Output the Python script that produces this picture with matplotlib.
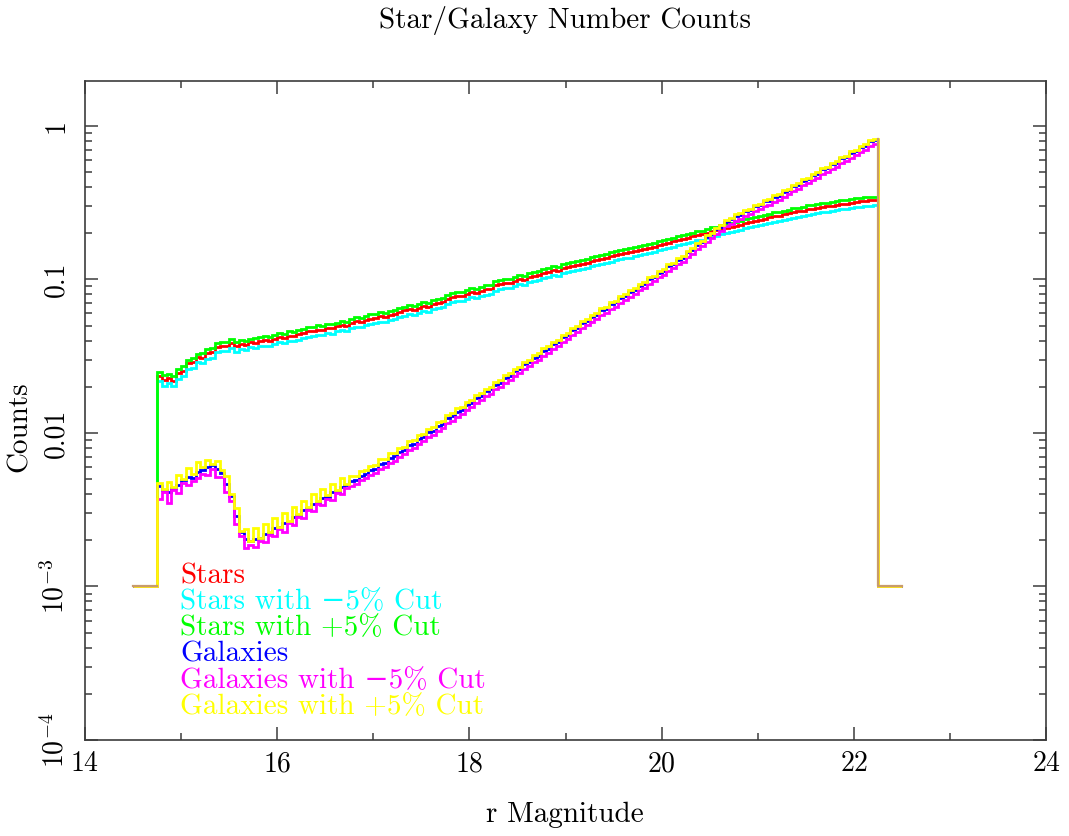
import numpy as np
import matplotlib.pyplot as plt

# --- histogram layout (r magnitude) ---
MAG_LO, MAG_HI = 14.5, 22.5      # full histogram range
CUT_LO, CUT_HI = 14.75, 22.25    # range that actually has objects
BIN = 0.05
FLOOR = 1e-3                     # empty bins get plotted at this level

# normalised counts per bin, 0.05 mag bins from 14.75 to 22.25
stars = [
    0.0236, 0.0221, 0.0228, 0.0219, 0.0244, 0.0255, 0.0284, 0.0288, 0.0312, 0.0309,
    0.0331, 0.0336, 0.0362, 0.0371, 0.0369, 0.0386, 0.0367, 0.0381, 0.0373, 0.0390,
    0.0388, 0.0396, 0.0401, 0.0398, 0.0412, 0.0420, 0.0415, 0.0431, 0.0428, 0.0439,
    0.0446, 0.0458, 0.0462, 0.0471, 0.0468, 0.0484, 0.0479, 0.0495, 0.0502, 0.0498,
    0.0521, 0.0533, 0.0529, 0.0545, 0.0556, 0.0562, 0.0574, 0.0569, 0.0588, 0.0595,
    0.0612, 0.0628, 0.0640, 0.0636, 0.0655, 0.0671, 0.0664, 0.0689, 0.0702, 0.0711,
    0.0748, 0.0766, 0.0781, 0.0779, 0.0802, 0.0829, 0.0818, 0.0846, 0.0861, 0.0872,
    0.0914, 0.0931, 0.0952, 0.0948, 0.0980, 0.1010, 0.0996, 0.1035, 0.1052, 0.1068,
    0.1102, 0.1125, 0.1148, 0.1140, 0.1185, 0.1210, 0.1228, 0.1246, 0.1262, 0.1285,
    0.1318, 0.1335, 0.1362, 0.1389, 0.1412, 0.1448, 0.1461, 0.1487, 0.1502, 0.1530,
    0.1552, 0.1580, 0.1611, 0.1634, 0.1668, 0.1712, 0.1735, 0.1770, 0.1801, 0.1838,
    0.1872, 0.1905, 0.1938, 0.1966, 0.2010, 0.2063, 0.2085, 0.2131, 0.2160, 0.2194,
    0.2230, 0.2275, 0.2320, 0.2358, 0.2410, 0.2452, 0.2490, 0.2531, 0.2575, 0.2602,
    0.2650, 0.2688, 0.2735, 0.2770, 0.2806, 0.2862, 0.2891, 0.2920, 0.2962, 0.2985,
    0.3020, 0.3055, 0.3089, 0.3120, 0.3152, 0.3195, 0.3221, 0.3240, 0.3268, 0.3290,
]
stars_m5 = [
    0.0218, 0.0203, 0.0212, 0.0201, 0.0225, 0.0236, 0.0262, 0.0266, 0.0290, 0.0285,
    0.0305, 0.0310, 0.0335, 0.0343, 0.0340, 0.0357, 0.0339, 0.0352, 0.0345, 0.0361,
    0.0359, 0.0366, 0.0371, 0.0367, 0.0381, 0.0389, 0.0383, 0.0399, 0.0395, 0.0406,
    0.0413, 0.0424, 0.0427, 0.0436, 0.0432, 0.0448, 0.0442, 0.0458, 0.0465, 0.0460,
    0.0482, 0.0493, 0.0489, 0.0504, 0.0514, 0.0520, 0.0531, 0.0526, 0.0544, 0.0550,
    0.0566, 0.0581, 0.0592, 0.0588, 0.0606, 0.0621, 0.0614, 0.0637, 0.0649, 0.0658,
    0.0692, 0.0709, 0.0722, 0.0720, 0.0742, 0.0767, 0.0757, 0.0782, 0.0796, 0.0807,
    0.0845, 0.0861, 0.0880, 0.0877, 0.0906, 0.0934, 0.0921, 0.0957, 0.0973, 0.0988,
    0.1019, 0.1041, 0.1062, 0.1055, 0.1096, 0.1119, 0.1136, 0.1153, 0.1167, 0.1189,
    0.1219, 0.1235, 0.1260, 0.1285, 0.1306, 0.1339, 0.1351, 0.1375, 0.1389, 0.1415,
    0.1436, 0.1462, 0.1490, 0.1511, 0.1543, 0.1584, 0.1605, 0.1637, 0.1666, 0.1700,
    0.1732, 0.1762, 0.1793, 0.1819, 0.1859, 0.1908, 0.1929, 0.1971, 0.1998, 0.2030,
    0.2063, 0.2104, 0.2146, 0.2181, 0.2229, 0.2268, 0.2303, 0.2341, 0.2382, 0.2407,
    0.2451, 0.2486, 0.2530, 0.2562, 0.2596, 0.2647, 0.2674, 0.2701, 0.2740, 0.2761,
    0.2794, 0.2826, 0.2857, 0.2886, 0.2916, 0.2955, 0.2979, 0.2997, 0.3023, 0.3043,
]
stars_p5 = [
    0.0248, 0.0238, 0.0241, 0.0236, 0.0259, 0.0272, 0.0299, 0.0308, 0.0329, 0.0331,
    0.0352, 0.0357, 0.0388, 0.0392, 0.0390, 0.0409, 0.0392, 0.0401, 0.0398, 0.0412,
    0.0414, 0.0420, 0.0428, 0.0421, 0.0437, 0.0449, 0.0440, 0.0458, 0.0456, 0.0465,
    0.0475, 0.0489, 0.0488, 0.0502, 0.0497, 0.0513, 0.0510, 0.0524, 0.0535, 0.0528,
    0.0554, 0.0566, 0.0561, 0.0578, 0.0592, 0.0595, 0.0610, 0.0606, 0.0622, 0.0633,
    0.0650, 0.0665, 0.0681, 0.0674, 0.0696, 0.0712, 0.0703, 0.0732, 0.0743, 0.0756,
    0.0795, 0.0811, 0.0830, 0.0824, 0.0851, 0.0878, 0.0870, 0.0896, 0.0915, 0.0924,
    0.0970, 0.0986, 0.1011, 0.1004, 0.1040, 0.1069, 0.1058, 0.1096, 0.1117, 0.1130,
    0.1170, 0.1191, 0.1219, 0.1207, 0.1257, 0.1281, 0.1303, 0.1320, 0.1340, 0.1361,
    0.1398, 0.1413, 0.1446, 0.1470, 0.1498, 0.1533, 0.1550, 0.1575, 0.1594, 0.1622,
    0.1648, 0.1672, 0.1712, 0.1730, 0.1770, 0.1812, 0.1840, 0.1874, 0.1910, 0.1945,
    0.1985, 0.2018, 0.2056, 0.2082, 0.2131, 0.2185, 0.2211, 0.2258, 0.2290, 0.2324,
    0.2365, 0.2410, 0.2462, 0.2498, 0.2556, 0.2598, 0.2640, 0.2681, 0.2731, 0.2756,
    0.2810, 0.2848, 0.2901, 0.2934, 0.2975, 0.3032, 0.3065, 0.3094, 0.3141, 0.3162,
    0.3202, 0.3236, 0.3275, 0.3306, 0.3342, 0.3385, 0.3415, 0.3432, 0.3466, 0.3441,
]
gals = [
    0.00452, 0.00428, 0.00411, 0.00440, 0.00458, 0.00492, 0.00518, 0.00511, 0.00560, 0.00574,
    0.00596, 0.00615, 0.00580, 0.00545, 0.00462, 0.00388, 0.00287, 0.00228, 0.00203, 0.00197,
    0.00203, 0.00207, 0.00221, 0.00224, 0.00241, 0.00243, 0.00259, 0.00265, 0.00285, 0.00293,
    0.00315, 0.00324, 0.00345, 0.00352, 0.00377, 0.00384, 0.00410, 0.00419, 0.00447, 0.00456,
    0.00485, 0.00497, 0.00527, 0.00540, 0.00572, 0.00584, 0.00628, 0.00640, 0.00688, 0.00703,
    0.00751, 0.00772, 0.00829, 0.00850, 0.00914, 0.00941, 0.01008, 0.01036, 0.01113, 0.01147,
    0.01243, 0.01280, 0.01375, 0.01416, 0.01523, 0.01568, 0.01685, 0.01735, 0.01864, 0.01920,
    0.02063, 0.02125, 0.02283, 0.02351, 0.02527, 0.02603, 0.02796, 0.02880, 0.03094, 0.03188,
    0.03429, 0.03535, 0.03801, 0.03920, 0.04215, 0.04346, 0.04674, 0.04818, 0.05182, 0.05342,
    0.05718, 0.05868, 0.06281, 0.06443, 0.06898, 0.07077, 0.07577, 0.07773, 0.08321, 0.08538,
    0.09113, 0.09371, 0.1005, 0.1033, 0.1108, 0.1140, 0.1222, 0.1257, 0.1348, 0.1385,
    0.1500, 0.1557, 0.1686, 0.1749, 0.1894, 0.1965, 0.2128, 0.2208, 0.2379, 0.2457,
    0.2601, 0.2638, 0.2792, 0.2832, 0.2998, 0.3041, 0.3218, 0.3264, 0.3454, 0.3503,
    0.3725, 0.3803, 0.4052, 0.4137, 0.4407, 0.4499, 0.4793, 0.4894, 0.5213, 0.5323,
    0.5654, 0.5773, 0.6151, 0.6280, 0.6691, 0.6832, 0.7279, 0.7432, 0.7918, 0.8085,
]
gals_m5 = [
    0.00372, 0.00410, 0.00352, 0.00428, 0.00405, 0.00470, 0.00455, 0.00489, 0.00508, 0.00540,
    0.00530, 0.00585, 0.00520, 0.00515, 0.00415, 0.00362, 0.00255, 0.00212, 0.00178, 0.00186,
    0.00180, 0.00198, 0.00195, 0.00216, 0.00212, 0.00238, 0.00228, 0.00258, 0.00252, 0.00285,
    0.00280, 0.00315, 0.00308, 0.00342, 0.00338, 0.00372, 0.00368, 0.00405, 0.00402, 0.00440,
    0.00452, 0.00466, 0.00491, 0.00508, 0.00532, 0.00550, 0.00584, 0.00602, 0.00640, 0.00661,
    0.00699, 0.00727, 0.00771, 0.00800, 0.00850, 0.00886, 0.00937, 0.00975, 0.01035, 0.01080,
    0.01156, 0.01205, 0.01279, 0.01333, 0.01416, 0.01476, 0.01567, 0.01633, 0.01734, 0.01807,
    0.01919, 0.02000, 0.02123, 0.02213, 0.02350, 0.02450, 0.02600, 0.02711, 0.02877, 0.03000,
    0.03189, 0.03327, 0.03535, 0.03689, 0.03920, 0.04090, 0.04347, 0.04534, 0.04819, 0.05027,
    0.05318, 0.05522, 0.05841, 0.06063, 0.06415, 0.06660, 0.07047, 0.07315, 0.07739, 0.08035,
    0.08475, 0.08818, 0.09347, 0.09724, 0.1031, 0.1072, 0.1137, 0.1182, 0.1254, 0.1304,
    0.1395, 0.1465, 0.1568, 0.1646, 0.1761, 0.1849, 0.1979, 0.2077, 0.2213, 0.2312,
    0.2419, 0.2483, 0.2597, 0.2665, 0.2788, 0.2861, 0.2993, 0.3071, 0.3212, 0.3296,
    0.3464, 0.3579, 0.3768, 0.3893, 0.4098, 0.4234, 0.4458, 0.4605, 0.4848, 0.5008,
    0.5258, 0.5432, 0.5720, 0.5909, 0.6222, 0.6429, 0.6769, 0.6993, 0.7364, 0.7608,
]
gals_p5 = [
    0.00471, 0.00430, 0.00478, 0.00445, 0.00532, 0.00498, 0.00590, 0.00541, 0.00648, 0.00597,
    0.00668, 0.00630, 0.00652, 0.00575, 0.00525, 0.00402, 0.00325, 0.00231, 0.00236, 0.00198,
    0.00240, 0.00208, 0.00255, 0.00226, 0.00281, 0.00245, 0.00302, 0.00268, 0.00330, 0.00298,
    0.00362, 0.00330, 0.00398, 0.00358, 0.00432, 0.00392, 0.00468, 0.00428, 0.00508, 0.00466,
    0.00521, 0.00526, 0.00566, 0.00572, 0.00613, 0.00618, 0.00672, 0.00676, 0.00735, 0.00742,
    0.00801, 0.00814, 0.00882, 0.00895, 0.00970, 0.00990, 0.01067, 0.01089, 0.01175, 0.01204,
    0.01310, 0.01342, 0.01445, 0.01484, 0.01596, 0.01641, 0.01761, 0.01814, 0.01946, 0.02003,
    0.02152, 0.02213, 0.02375, 0.02446, 0.02628, 0.02705, 0.02902, 0.02991, 0.03209, 0.03306,
    0.03551, 0.03660, 0.03933, 0.04054, 0.04356, 0.04491, 0.04826, 0.04974, 0.05346, 0.05510,
    0.05891, 0.06044, 0.06466, 0.06632, 0.07097, 0.07281, 0.07792, 0.07993, 0.08552, 0.08775,
    0.09358, 0.09621, 0.1031, 0.1060, 0.1137, 0.1169, 0.1253, 0.1288, 0.1381, 0.1420,
    0.1536, 0.1594, 0.1725, 0.1790, 0.1938, 0.2011, 0.2176, 0.2258, 0.2432, 0.2512,
    0.2656, 0.2695, 0.2852, 0.2893, 0.3061, 0.3106, 0.3286, 0.3334, 0.3527, 0.3578,
    0.3802, 0.3883, 0.4136, 0.4224, 0.4499, 0.4594, 0.4893, 0.4997, 0.5322, 0.5435,
    0.5770, 0.5892, 0.6277, 0.6410, 0.6829, 0.6974, 0.7429, 0.7587, 0.8083, 0.8255,
]

labels = ["Stars", "Stars with \u22125% Cut", "Stars with +5% Cut",
          "Galaxies", "Galaxies with \u22125% Cut", "Galaxies with +5% Cut"]
colors = ["#ff0000", "#00ffff", "#00ff00", "#0000ff", "#ff00ff", "#ffff00"]
series = [stars, stars_m5, stars_p5, gals, gals_m5, gals_p5]

y_ticks = [1e-4, 1e-3, 1e-2, 0.1, 1]
y_ticklabels = [r"$10^{-4}$", r"$10^{-3}$", "0.01", "0.1", "1"]

plt.rcParams["font.family"] = ["cmr10", "DejaVu Serif"]
plt.rcParams["mathtext.fontset"] = "cm"
plt.rcParams["axes.formatter.use_mathtext"] = True

edges = np.round(np.arange(CUT_LO, CUT_HI + BIN / 2, BIN), 3)
full_edges = np.concatenate([[MAG_LO], edges, [MAG_HI]])

fig = plt.figure(figsize=(10.69, 8.36), dpi=100)
ax = fig.add_axes([0.0795, 0.1148, 0.899, 0.7883])

for vals, col in zip(series, colors):
    padded = np.concatenate([[FLOOR], vals, [FLOOR]])
    ax.stairs(padded, full_edges, baseline=None, color=col, lw=2.0)

# empty bins outside the magnitude cut
tan = "#c89b6c"
ax.plot([MAG_LO, CUT_LO], [FLOOR, FLOOR], color=tan, lw=1.6)
top_last = max(s[-1] for s in series)
ax.plot([CUT_HI, CUT_HI, MAG_HI], [top_last, FLOOR, FLOOR], color=tan, lw=1.6)

ax.set_yscale("log")
ax.set_xlim(14, 24)
ax.set_ylim(1e-4, 1.96)
ax.set_xticks([14, 16, 18, 20, 22, 24])
ax.set_xticks([15, 17, 19, 21, 23], minor=True)
ax.set_yticks(y_ticks)
ax.set_yticklabels(y_ticklabels, rotation=90, va="center")
frame = "#3c3c3c"
ax.tick_params(which="both", direction="in", top=True, right=True, colors=frame,
               labelcolor="black", width=1.1)
ax.tick_params(which="major", length=9.5, labelsize=20)
ax.tick_params(which="minor", length=5)
ax.tick_params(axis="x", pad=8)
ax.tick_params(axis="y", pad=11)
for sp in ax.spines.values():
    sp.set_color(frame)
    sp.set_linewidth(1.2)

# colored text key, drawn inside the plot
for i, (lab, col) in enumerate(zip(labels, colors)):
    ax.text(0.099, 0.249 - i * 0.0398, lab, color=col, fontsize=21,
            transform=ax.transAxes, va="center", ha="left")

fig.text(0.5286, 0.976, "Star/Galaxy Number Counts", ha="center", va="center", fontsize=21)
fig.text(0.5286, 0.025, "r Magnitude", ha="center", va="center", fontsize=21)
fig.text(0.0187, 0.49, "Counts", ha="center", va="center", rotation=90, fontsize=21)

fig.savefig("out.png", dpi=100)
